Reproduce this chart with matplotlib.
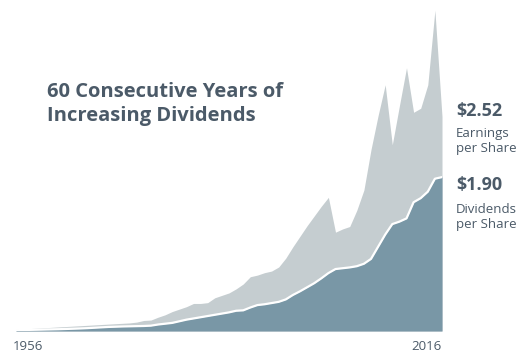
import matplotlib
matplotlib.use("Agg")
import matplotlib.pyplot as plt
import numpy as np

years = list(range(1956, 2017))

earnings = [0.02, 0.025, 0.03, 0.035, 0.04, 0.045, 0.05, 0.055, 0.06, 0.065,
            0.07, 0.075, 0.08, 0.085, 0.09, 0.095, 0.10, 0.11, 0.13, 0.135,
            0.17, 0.20, 0.24, 0.27, 0.30, 0.34, 0.34, 0.35, 0.41, 0.44,
            0.47, 0.52, 0.58, 0.67, 0.69, 0.72, 0.74, 0.79, 0.90, 1.04,
            1.17, 1.30, 1.42, 1.54, 1.65, 1.22, 1.26, 1.29, 1.49, 1.74,
            2.24, 2.66, 3.04, 2.30, 2.78, 3.25, 2.70, 2.75, 3.04, 3.96,
            2.65]

dividends = [0.01, 0.012, 0.014, 0.016, 0.018, 0.02, 0.022, 0.025, 0.028, 0.031,
             0.035, 0.04, 0.045, 0.05, 0.053, 0.056, 0.058, 0.06, 0.062, 0.066,
             0.08, 0.09, 0.10, 0.12, 0.14, 0.155, 0.17, 0.185, 0.20, 0.215,
             0.23, 0.25, 0.255, 0.29, 0.32, 0.33, 0.345, 0.36, 0.39, 0.445,
             0.49, 0.54, 0.59, 0.65, 0.715, 0.765, 0.775, 0.785, 0.80, 0.83,
             0.89, 1.04, 1.19, 1.32, 1.35, 1.39, 1.59, 1.64, 1.72, 1.88,
             1.90]

title_lines = ["60 Consecutive Years of", "Increasing Dividends"]
eps_label = "$2.52"
div_label = "$1.90"
first_year, last_year = "1956", "2016"

W, H = 520, 358
fig = plt.figure(figsize=(W / 100, H / 100), dpi=100)
fig.patch.set_facecolor("white")

x0, x1, ybase = 16, 442, 331
px_per_dollar = 81.0
ax = fig.add_axes([x0 / W, (H - ybase) / H, (x1 - x0) / W, ybase / H])
ax.set_xlim(1956, 2016)
ax.set_ylim(0, ybase / px_per_dollar)
ax.axis("off")

gray = "#c5cdd0"
blue = "#7997a6"
txt = "#4b5a68"

ax.fill_between(years, 0, earnings, color=gray, lw=0)
ax.fill_between(years, 0, dividends, color=blue, lw=0)
ax.plot(years, dividends, color="white", lw=1.6, solid_joinstyle="round")

def ftext(x, y, s, **kw):
    fig.text(x / W, 1 - y / H, s, va="baseline", **kw)

fam = ["Open Sans", "DejaVu Sans"]
ftext(47, 97, title_lines[0], fontsize=14.5, fontweight="bold", color=txt, family=fam)
ftext(47, 121, title_lines[1], fontsize=14.5, fontweight="bold", color=txt, family=fam)

ftext(456, 116, eps_label, fontsize=13, fontweight="bold", color=txt, family=fam)
ftext(456, 137, "Earnings", fontsize=9.5, color=txt, family=fam)
ftext(456, 152, "per Share", fontsize=9.5, color=txt, family=fam)
ftext(456, 190, div_label, fontsize=13, fontweight="bold", color=txt, family=fam)
ftext(456, 213, "Dividends", fontsize=9.5, color=txt, family=fam)
ftext(456, 228, "per Share", fontsize=9.5, color=txt, family=fam)

ftext(13, 350, first_year, fontsize=9.5, color=txt, family=fam, ha="left")
ftext(442, 350, last_year, fontsize=9.5, color=txt, family=fam, ha="right")

fig.savefig("out.png", dpi=100, facecolor="white")
